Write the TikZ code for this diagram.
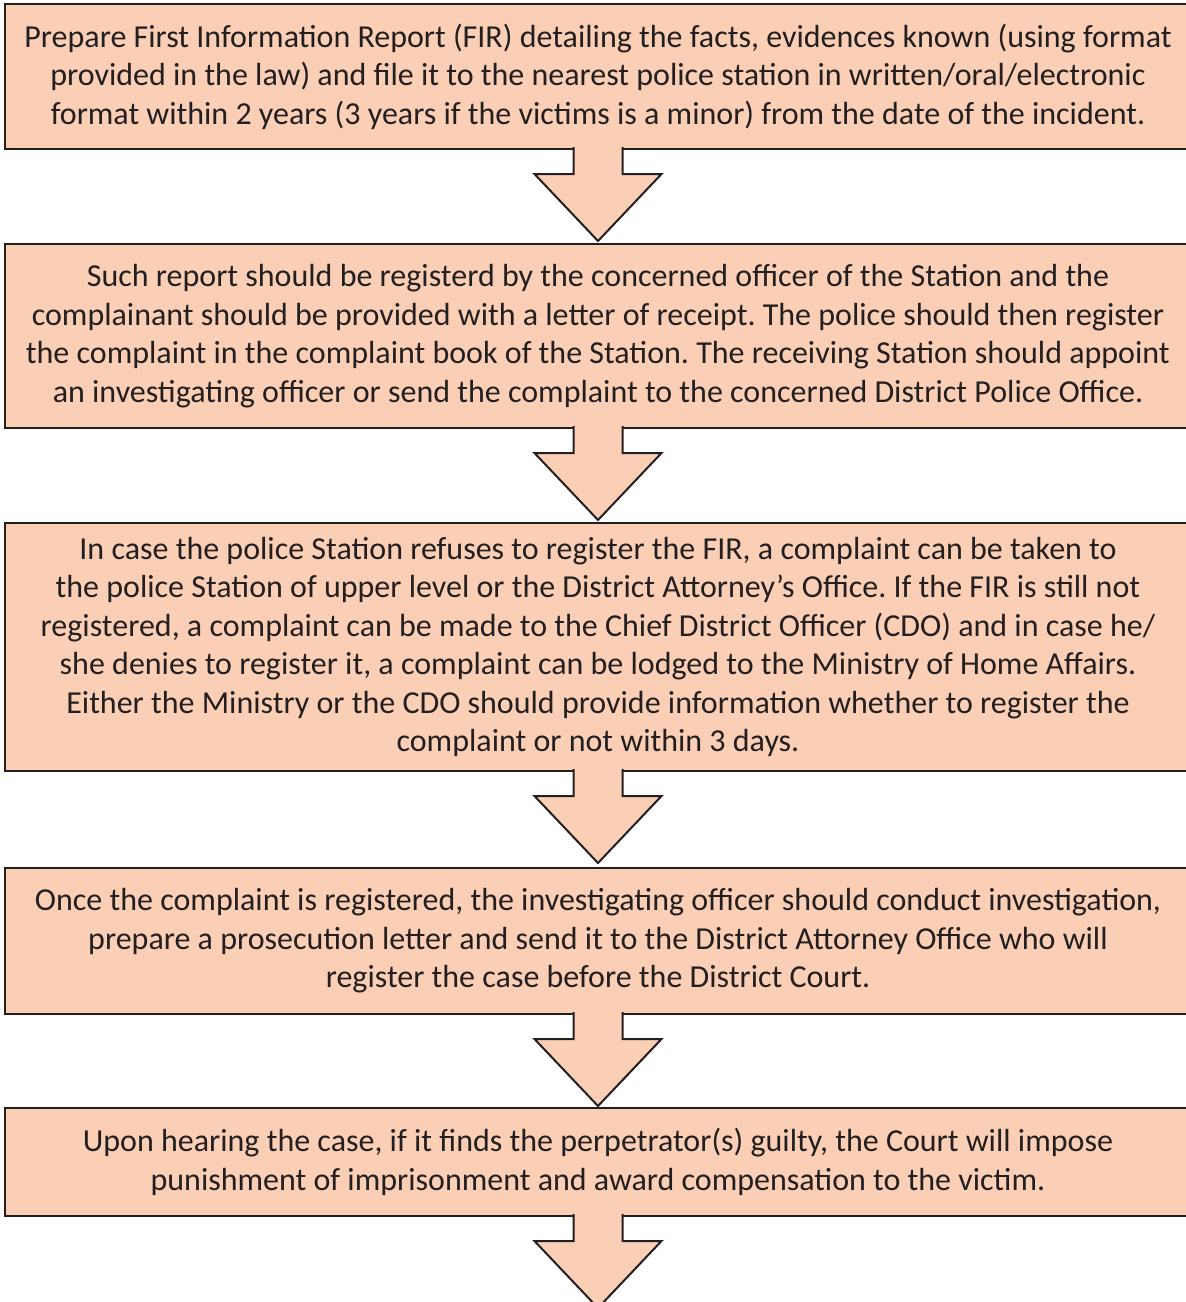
\documentclass[tikz,border=0pt]{standalone}
\usepackage{fontspec}
\setmainfont{Carlito}
\usetikzlibrary{calc}
\frenchspacing
\definecolor{peach}{RGB}{251,207,181}
\definecolor{ink}{RGB}{35,31,32}
\tikzset{
  stepbox/.style={draw=ink, line width=2pt, fill=peach, minimum width=1186pt,
    inner sep=0pt, align=center, text=ink,
    font=\fontsize{32}{38.5}\selectfont},
  flowarrow/.style={draw=ink, fill=peach, line width=2pt, line join=miter}
}
\newcommand{\downarrowfrom}[1]{%
  \filldraw[flowarrow] ($(#1.south)+(-24.5,-3)$) -- ++(0,27) -- ++(-39,0)
    -- ++(63.5,67) -- ++(63.5,-67) -- ++(-39,0) -- ++(0,-27);}
\begin{document}
\begin{tikzpicture}[x=1pt,y=-1pt]
\useasboundingbox (0,0) rectangle (1186,1302);
\node[stepbox, minimum height=145pt] (b1) at (598,76.5) {Prepare First Information Report (FIR) detailing the facts, evidences known (using format\\provided in the law) and file it to the nearest police station in written/oral/electronic\\format within 2 years (3 years if the victims is a minor) from the date of the incident.};
\node[stepbox, minimum height=184pt] (b2) at (598,336) {Such report should be registerd by the concerned officer of the Station and the\\complainant should be provided with a letter of receipt. The police should then register\\the complaint in the complaint book of the Station. The receiving Station should appoint\\an investigating officer or send the complaint to the concerned District Police Office.};
\node[stepbox, minimum height=248pt] (b3) at (598,647) {In case the police Station refuses to register the FIR, a complaint can be taken to\\the police Station of upper level or the District Attorney’s Office. If the FIR is still not\\registered, a complaint can be made to the Chief District Officer (CDO) and in case he/\\she denies to register it, a complaint can be lodged to the Ministry of Home Affairs.\\Either the Ministry or the CDO should provide information whether to register the\\complaint or not within 3 days.};
\node[stepbox, minimum height=146pt] (b4) at (598,941) {Once the complaint is registered, the investigating officer should conduct investigation,\\prepare a prosecution letter and send it to the District Attorney Office who will\\register the case before the District Court.};
\node[stepbox, minimum height=108pt] (b5) at (598,1162) {Upon hearing the case, if it finds the perpetrator(s) guilty, the Court will impose\\punishment of imprisonment and award compensation to the victim.};
\downarrowfrom{b1}
\downarrowfrom{b2}
\downarrowfrom{b3}
\downarrowfrom{b4}
\downarrowfrom{b5}
\end{tikzpicture}
\end{document}
